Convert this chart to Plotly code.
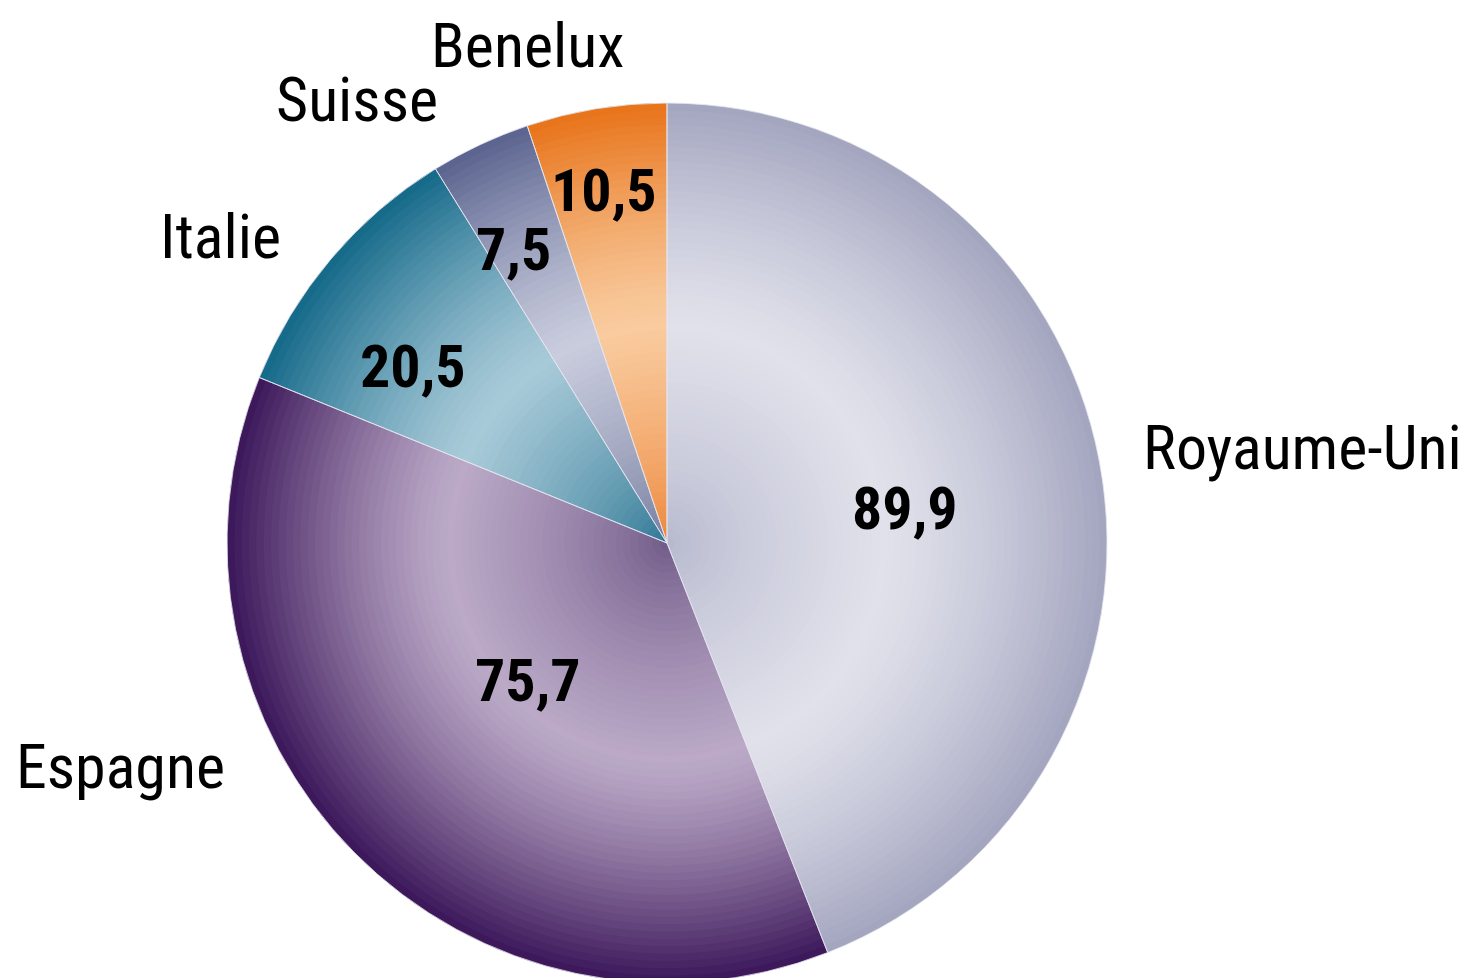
import plotly.graph_objects as go

# ---- data ----
countries = ["Royaume-Uni", "Espagne", "Italie", "Suisse", "Benelux"]
values = [89.9, 75.7, 20.5, 7.5, 10.5]
value_labels = ["89,9", "75,7", "20,5", "7,5", "10,5"]

# ---- style ----
# per slice: (outer edge colour, light mid colour, centre colour)
shades = [
    ("#a4a6c0", "#e1e1eb", "#b3b5cb"),
    ("#3d195b", "#bba9c7", "#6a5583"),
    ("#166a8a", "#a8cad8", "#24708f"),
    ("#5c6590", "#c9ccdd", "#6c7398"),
    ("#e8741b", "#f9cb9f", "#ec7f2e"),
]
FONT = "Liberation Sans Narrow, Arial Narrow, Roboto Condensed, Liberation Sans, sans-serif"
W, H = 1468, 978
OFF = 8  # page body margin
CX, CY, R = 667 - OFF, 543 - OFF, 440

# text placement (page pixels)
label_pos = [(1302, 447), (120, 766), (220, 236), (357, 100), (527, 46)]
value_pos = [(905, 508), (528, 680), (413, 366), (513, 250), (604, 190)]

def hex2rgb(h):
    h = h.lstrip("#")
    return [int(h[i:i + 2], 16) for i in (0, 2, 4)]

def mix(a, b, t):
    a, b = hex2rgb(a), hex2rgb(b)
    return "rgb(%d,%d,%d)" % tuple(round(a[i] + (b[i] - a[i]) * t) for i in range(3))

def shade_at(s, r):
    outer, mid, inner = s
    peak = 0.5
    if r >= peak:
        return mix(mid, outer, ((r - peak) / (1 - peak)) ** 1.3)
    return mix(inner, mid, (r / peak) ** 0.7)

def domain(scale):
    rr = R * scale
    cyb = H - CY
    return dict(
        x=[(CX - rr) / W, (CX + rr) / W],
        y=[max(0, (cyb - rr) / H), min(1, (cyb + rr) / H)],
    )

fig = go.Figure()
N = 60
for k in range(N):
    scale = 1 - k / N
    fig.add_trace(go.Pie(
        labels=countries, values=values, sort=False, direction="clockwise",
        rotation=0, domain=domain(scale), textinfo="none", hoverinfo="skip",
        marker=dict(colors=[shade_at(s, scale) for s in shades], line=dict(width=0)),
        showlegend=False,
    ))

# transparent top layer carrying the slice separators and hover info
fig.add_trace(go.Pie(
    labels=countries, values=values, sort=False, direction="clockwise",
    rotation=0, domain=domain(1.0), textinfo="none",
    hovertemplate="%{label}: %{value}<extra></extra>",
    marker=dict(colors=["rgba(0,0,0,0)"] * 5,
                line=dict(width=1, color="rgba(230,230,240,0.8)")),
    showlegend=False,
))

for name, (px, py) in zip(countries, label_pos):
    fig.add_annotation(
        x=(px - OFF) / W, y=1 - (py - OFF) / H, xref="paper", yref="paper",
        text=name, showarrow=False, xanchor="center", yanchor="middle",
        borderpad=0,
        font=dict(family=FONT, size=62, color="black"),
    )

for txt, (px, py) in zip(value_labels, value_pos):
    fig.add_annotation(
        x=(px - OFF) / W, y=1 - (py - OFF) / H, xref="paper", yref="paper",
        text=txt, showarrow=False, xanchor="center", yanchor="middle",
        borderpad=0,
        font=dict(family=FONT, size=60, color="black", weight="bold"),
    )

fig.update_layout(
    width=W, height=H, margin=dict(l=0, r=0, t=0, b=0),
    paper_bgcolor="white", plot_bgcolor="white",
)
fig.write_html("out.html")
